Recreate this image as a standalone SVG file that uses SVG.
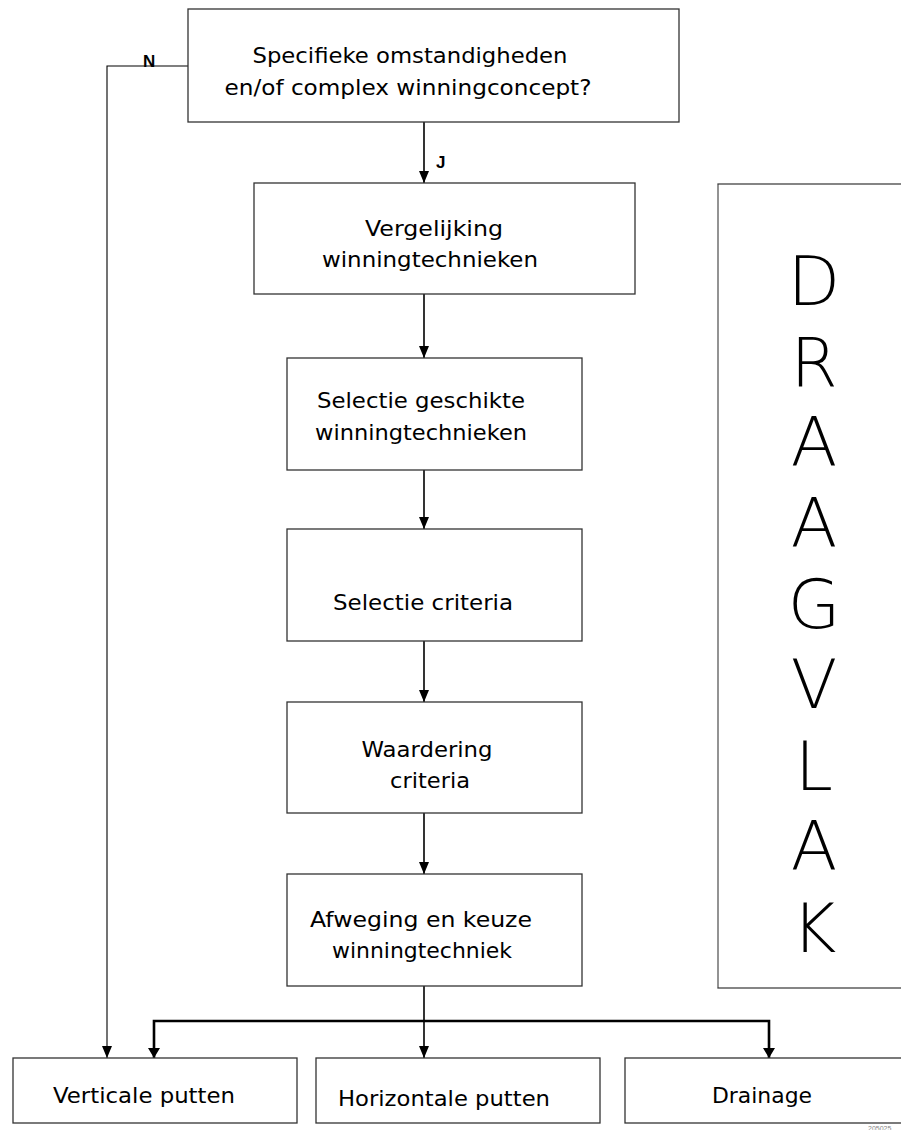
<svg xmlns="http://www.w3.org/2000/svg" width="901" height="1130" viewBox="0 0 901 1130">
<style>
.box{fill:#fff;stroke:#333;stroke-width:1.3}
.t{font-family:"DejaVu Sans","Liberation Sans",sans-serif;font-size:22px;fill:#000;text-anchor:middle}
.big{font-family:"DejaVu Sans","Liberation Sans",sans-serif;font-size:68px;fill:#000;text-anchor:middle;font-weight:200}
.lbl{font-family:"Liberation Sans",Arial,sans-serif;font-weight:bold;font-size:17px;fill:#000}
.c{fill:none;stroke:#000;stroke-width:1.6}
.thick{fill:none;stroke:#000;stroke-width:2.6}
.thin{fill:none;stroke:#000;stroke-width:1.1}
</style>
<defs>
<marker id="ah" viewBox="0 0 12 10" refX="12" refY="5" markerWidth="12" markerHeight="10" markerUnits="userSpaceOnUse" orient="auto">
<path d="M0,0 L12,5 L0,10 Z" fill="#000"/>
</marker>
</defs>
<rect width="901" height="1130" fill="#fff"/>
<g id="connectors">
<path class="thin" d="M188,66 H107 V1058" marker-end="url(#ah)"/>
<path class="c" d="M424,122 V183" marker-end="url(#ah)"/>
<path class="c" d="M424,294 V358" marker-end="url(#ah)"/>
<path class="c" d="M424,470 V529" marker-end="url(#ah)"/>
<path class="c" d="M424,641 V702" marker-end="url(#ah)"/>
<path class="c" d="M424,813 V874" marker-end="url(#ah)"/>
<path class="c" d="M424,986 V1058" marker-end="url(#ah)"/>
<path class="thick" d="M154,1058 V1021 H769 V1058"/>
<path d="M148,1048 L160,1048 L154,1058 Z M763,1048 L775,1048 L769,1058 Z" fill="#000"/>
<text class="lbl" x="143" y="67">N</text>
<text class="lbl" x="436" y="168">J</text>
</g>
<g id="n-start">
<rect class="box" x="188" y="9" width="491" height="113"/>
<text class="t" x="410" y="63" textLength="315" lengthAdjust="spacingAndGlyphs">Specifieke omstandigheden</text>
<text class="t" x="408" y="95" textLength="367" lengthAdjust="spacingAndGlyphs">en/of complex winningconcept?</text>
</g>
<g id="n-vergelijking">
<rect class="box" x="254" y="183" width="381" height="111"/>
<text class="t" x="434" y="236" textLength="138" lengthAdjust="spacingAndGlyphs">Vergelijking</text>
<text class="t" x="430" y="267" textLength="216" lengthAdjust="spacingAndGlyphs">winningtechnieken</text>
</g>
<g id="n-selectie-geschikte">
<rect class="box" x="287" y="358" width="295" height="112"/>
<text class="t" x="421" y="408" textLength="208" lengthAdjust="spacingAndGlyphs">Selectie geschikte</text>
<text class="t" x="421" y="440" textLength="212" lengthAdjust="spacingAndGlyphs">winningtechnieken</text>
</g>
<g id="n-selectie-criteria">
<rect class="box" x="287" y="529" width="295" height="112"/>
<text class="t" x="423" y="610" textLength="180" lengthAdjust="spacingAndGlyphs">Selectie criteria</text>
</g>
<g id="n-waardering">
<rect class="box" x="287" y="702" width="295" height="111"/>
<text class="t" x="427" y="757" textLength="131" lengthAdjust="spacingAndGlyphs">Waardering</text>
<text class="t" x="430" y="788" textLength="80" lengthAdjust="spacingAndGlyphs">criteria</text>
</g>
<g id="n-afweging">
<rect class="box" x="287" y="874" width="295" height="112"/>
<text class="t" x="421" y="927" textLength="222" lengthAdjust="spacingAndGlyphs">Afweging en keuze</text>
<text class="t" x="422" y="958" textLength="180" lengthAdjust="spacingAndGlyphs">winningtechniek</text>
</g>
<g id="n-draagvlak">
<rect x="718" y="184" width="200" height="804" fill="#fff" stroke="#444" stroke-width="1.3"/>
<line x1="718" y1="185" x2="718" y2="987" stroke="#999" stroke-width="1.5"/>
<text class="big" x="814" y="305">D</text>
<text class="big" x="814" y="386">R</text>
<text class="big" x="814" y="466">A</text>
<text class="big" x="814" y="547">A</text>
<text class="big" x="814" y="628">G</text>
<text class="big" x="814" y="708">V</text>
<text class="big" x="814" y="790">L</text>
<text class="big" x="814" y="870">A</text>
<text class="big" x="814" y="952">K</text>
</g>
<g id="n-verticale">
<rect class="box" x="13" y="1058" width="284" height="65"/>
<text class="t" x="144" y="1103" textLength="182" lengthAdjust="spacingAndGlyphs">Verticale putten</text>
</g>
<g id="n-horizontale">
<rect class="box" x="316" y="1058" width="284" height="65"/>
<text class="t" x="444" y="1106" textLength="212" lengthAdjust="spacingAndGlyphs">Horizontale putten</text>
</g>
<g id="n-drainage">
<rect class="box" x="625" y="1058" width="290" height="65"/>
<text class="t" x="762" y="1103" textLength="100" lengthAdjust="spacingAndGlyphs">Drainage</text>
</g>
<text x="868" y="1131" font-family="Liberation Sans,sans-serif" font-size="7" fill="#888">205025</text>
</svg>
